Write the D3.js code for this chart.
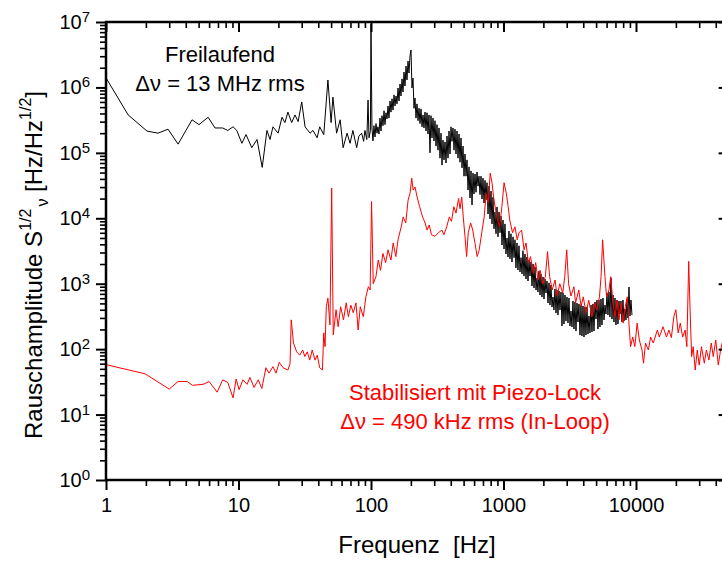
<!DOCTYPE html>
<html>
<head>
<meta charset="utf-8">
<script src="https://cdn.jsdelivr.net/npm/d3@7"></script>
<style>
  body { margin: 0; background: #fff; }
  svg { display: block; font-family: "Liberation Sans", Arial, Helvetica, sans-serif; }
</style>
</head>
<body>
<svg id="chart" width="722" height="561"></svg>
<script>
// Frequency noise spectrum, free running laser (Hz, Hz/sqrt(Hz))
const freeFreq = [
  1.0, 1.47, 2.04, 2.47, 2.94, 3.5, 4.46, 5.03, 5.9, 6.65, 7.6, 8.3, 9.1, 9.7,
  10.6, 11.4, 12.6, 13.8, 15.1, 16.4, 17.3, 18.2, 19.9, 21.3, 22.4, 23.6, 25.2, 26.7,
  28.2, 30.0, 31.8, 34.7, 36.5, 39.2, 41, 44, 47.3, 50, 51.6, 55, 58.5, 61.6, 66, 69.5,
  73, 78, 81, 85, 88, 90, 93, 95, 96.6, 99, 100,
  101.7, 103.5, 105.3, 107.2, 109.1, 111.0, 112.9, 114.9, 116.9, 119.0, 121.1, 123.2, 125.4, 127.5,
  129.8, 132.1, 134.4, 136.7, 139.2, 141.6, 144.1, 146.6, 149.2, 151.8, 154.5, 157.1, 159.9, 162.7,
  165.6, 168.4, 171.4, 174.4, 177.5, 180.6, 183.8, 186.9, 190.3, 193.6, 197.0, 200.4, 203.9, 207.5,
  211.1, 214.8, 218.6, 222.5, 226.4, 230.3, 234.4, 238.5, 242.7, 246.9, 251.2, 255.6, 260.1, 264.7,
  269.3, 274.0, 278.8, 283.7, 288.7, 293.8, 298.9, 304.1, 309.5, 314.9, 320.4, 326.1, 331.8, 337.6,
  343.5, 349.5, 355.6, 361.9, 368.2, 374.7, 381.3, 388.0, 394.8, 401.7, 408.7, 415.9, 423.2, 430.6,
  438.2, 445.9, 453.7, 461.6, 469.7, 477.9, 486.3, 494.8, 503.5, 512.3, 521.3, 530.5, 539.8, 549.2,
  558.9, 568.7, 578.7, 588.8, 599.1, 609.6, 620.3, 631.1, 642.2, 653.5, 664.9, 676.6, 688.5, 700.5,
  712.8, 725.3, 738.0, 751.0, 764.2, 777.5, 791.2, 805.0, 819.2, 833.5, 848.1, 862.9, 878.1, 893.4,
  909.1, 924.9, 941.3, 957.6, 974.4, 991.3, 1009, 1026, 1044, 1063, 1082, 1100, 1119, 1139,
  1159, 1180, 1201, 1221, 1242, 1264, 1286, 1309, 1332, 1356, 1380, 1403, 1428, 1453,
  1479, 1505, 1531, 1558, 1585, 1613, 1641, 1670, 1699, 1729, 1760, 1790, 1821, 1853,
  1886, 1919, 1953, 1987, 2022, 2057, 2093, 2130, 2167, 2205, 2244, 2283, 2323, 2363,
  2404, 2447, 2490, 2533, 2577, 2623, 2669, 2716, 2763, 2812, 2861, 2911, 2962, 3014,
  3067, 3121, 3176, 3231, 3288, 3345, 3404, 3464, 3525, 3586, 3649, 3713, 3778, 3844,
  3911, 3981, 4051, 4121, 4193, 4267, 4342, 4418, 4495, 4574, 4654, 4736, 4819, 4903,
  4989, 5077, 5166, 5256, 5348, 5442, 5537, 5635, 5734, 5834, 5936, 6040, 6146, 6254,
  6364, 6475, 6589, 6704, 6822, 6941, 7063, 7187, 7313, 7441, 7571, 7704, 7839, 7977,
  8117, 8259, 8404, 8551, 8701, 8853, 9008, 9166, 9327
];
const freeAmp = [
  1.4e6, 3.8e5, 2.15e5, 2.0e5, 2.3e5, 1.36e5, 3.2e5, 2.7e5, 3.5e5, 2.4e5, 2.4e5, 2.2e5, 2.5e5, 2.2e5,
  1.4e5, 1.9e5, 1.2e5, 1.6e5, 6.0e4, 2.2e5, 1.6e5, 2.5e5, 2.0e5, 3.5e5, 2.9e5, 4.2e5, 2.9e5, 3.8e5,
  3.0e5, 6.0e5, 2.5e5, 2.0e5, 2.2e5, 1.7e5, 2.5e5, 1.9e5, 1.3e6, 2.9e5, 7.1e5, 2.0e5, 3.2e5, 1.2e5, 2.0e5, 1.4e5,
  2.2e5, 1.2e5, 1.8e5, 2.0e5, 1.5e5, 2.2e5, 1.6e5, 6.4e5, 1.7e5, 2.2e5, 9.3e6,
  2.4e5, 1.52e5, 2.6e5, 1.75e5, 2.8e5, 2.0e5, 2.5e5, 1.94e5, 3.4e5, 2.16e5, 3.7e5, 2.6e5, 4.4e5, 2.7e5,
  4.1e5, 3.3e5, 5.2e5, 3.4e5, 6.2e5, 4.2e5, 6.7e5, 4.5e5, 7.7e5, 5.2e5, 7.4e5, 5.6e5, 9.8e5, 6.2e5,
  1.13e6, 7.4e5, 1.35e6, 8.5e5, 1.72e6, 1.05e6, 2.12e6, 1.30e6, 2.53e6, 1.66e6, 3.02e6, 3.73e6, 9.8e5, 1.39e6,
  4.8e5, 6.9e5, 3.4e5, 5.6e5, 3.1e5, 4.8e5, 2.8e5, 4.7e5, 2.5e5, 3.8e5, 2.4e5, 4.2e5, 2.16e5, 4.1e5,
  1.94e5, 3.8e5, 1.0e5, 3.7e5, 1.69e5, 3.4e5, 1.52e5, 3.1e5, 1.27e5, 2.7e5, 1.10e5, 2.4e5, 8.3e4, 2.0e5,
  6.5e4, 1.57e5, 7.8e4, 1.47e5, 7.0e4, 1.81e5, 8.3e4, 2.16e5, 9.6e4, 2.5e5, 1.5e5, 2.4e5, 1.10e5, 2.3e5,
  9.6e4, 2.16e5, 8.3e4, 1.94e5, 7.2e4, 1.69e5, 5.9e4, 1.27e5, 4.4e4, 9.6e4, 4.4e4, 7.8e4, 2.7e4, 6.1e4,
  2.04e4, 5.3e4, 1.6e4, 4.9e4, 2.35e4, 4.75e4, 2.5e4, 5.1e4, 3.1e4, 4.4e4, 2.3e4, 4.4e4, 1.97e4, 4.1e4,
  1.71e4, 3.8e4, 1.9e4, 3.5e4, 1.16e4, 3.1e4, 9.8e3, 2.6e4, 8.2e3, 2.1e4, 6.9e3, 1.25e4, 5.8e3, 1.49e4,
  5.2e3, 1.25e4, 6.0e3, 1.08e4, 3.9e3, 9.4e3, 3.4e3, 8.2e3, 2.85e3, 5.0e3, 2.56e3, 6.4e3, 2.4e3, 5.8e3,
  2.15e3, 5.2e3, 2.5e3, 4.7e3, 1.74e3, 4.2e3, 1.62e3, 3.8e3, 1.51e3, 2.5e3, 1.41e3, 3.2e3, 1.31e3, 2.85e3,
  1.18e3, 2.56e3, 1.10e3, 2.3e3, 1.31e3, 2.15e3, 922, 2.0e3, 860, 1.8e3, 800, 1.22e3, 746, 1.56e3,
  672, 1.41e3, 627, 1.27e3, 583, 1.18e3, 721, 1.10e3, 507, 1.03e3, 472, 955, 440, 627,
  396, 830, 356, 800, 332, 773, 396, 746, 226, 721, 242, 672, 269, 627,
  251, 604, 226, 383, 218, 544, 203, 525, 189, 507, 260, 490, 164, 472,
  159, 456, 153, 440, 164, 440, 170, 321, 177, 472, 183, 490, 189, 525,
  288, 564, 203, 564, 218, 583, 234, 604, 279, 472, 344, 721, 332, 746,
  310, 1.22e3, 288, 672, 260, 604, 234, 564, 242, 544, 344, 544, 260, 564,
  269, 410, 279, 583, 299, 890, 321, 564, 332
];

// Frequency noise spectrum with piezo lock, in-loop (Hz, Hz/sqrt(Hz))
const lockFreq = [
  1.0, 1.97, 3.0, 3.5, 4.1, 4.5, 5.4, 6.0, 6.9, 7.6, 8.3, 9.1, 9.6, 10.1, 10.8, 11.6, 12.2,
  13.1, 14.1, 15.0, 16.1, 17.0, 18.2, 19.2, 20.3, 21.7, 23.6, 24.5, 25.0, 26.0, 27.5, 29,
  30.5, 31.7, 33, 34.5, 36, 37.8, 39.3, 41, 43, 44, 45, 46, 47.3, 49, 50.5, 51.9, 54.5,
  56.5, 59, 62, 65, 67.5, 70.5, 73.5, 77, 80, 83, 87.5, 91.5, 95.5, 98.5, 101, 104, 109,
  113.5, 118, 123, 129, 134.5, 141.5, 147, 154, 160, 169, 175, 183, 190.5, 197, 203, 208,
  215, 223, 233, 245, 256, 265, 275, 286, 304, 322, 343, 355, 373, 390, 405, 422, 438, 458,
  470, 484, 497, 512, 527, 542, 565, 586, 610, 633, 656, 685, 715, 740, 766, 794, 819, 842,
  872, 902, 934, 972, 1010, 1050, 1085, 1115, 1170, 1220, 1270, 1310, 1370, 1430, 1480,
  1540, 1600, 1680, 1750, 1820, 1890, 1980, 2070, 2150, 2230, 2330, 2450, 2540, 2660, 2800,
  2900, 3000, 3100, 3230, 3400, 3500, 3700, 3850, 4000, 4200, 4400, 4650, 4850, 5050, 5300,
  5450, 5600, 5830, 6000, 6250, 6450, 6700, 6950, 7200, 7450, 7700, 8000, 8300, 8600, 8850,
  9100, 9450, 9800, 10200, 10600, 11100, 11400, 11800, 12400, 12900, 13500, 14500, 15000,
  16000, 17000, 17700, 18500, 19300, 20000, 20800, 21600, 22500, 23500, 24200, 25000, 25600,
  26300, 27000, 28000, 29000, 30000, 31200, 32800, 34000, 35500, 37000, 38300, 40000, 41800,
  43500, 45300, 47000, 50000
];
const lockAmp = [
  58, 42, 24.5, 32, 32, 28, 29, 32, 22, 34, 31, 18, 35, 24, 34, 29, 37,
  26, 34, 25, 52, 43, 54, 43, 63, 52, 48, 60, 280, 124, 91, 81,
  97, 77, 91, 68, 97, 68, 81, 52, 48, 177, 109, 445, 600, 234, 2.9e4, 165, 400,
  220, 445, 280, 510, 313, 470, 360, 510, 196, 445, 313, 632, 900, 800, 1.8e4, 1.0e3, 1.28e3,
  2.3e3, 1.6e3, 2.9e3, 2.1e3, 3.3e3, 2.3e3, 4.2e3, 2.6e3, 4.7e3, 7.4e3, 1.05e4, 8.5e3, 1.9e4, 2.4e4, 4.1e4, 2.7e4,
  3.0e4, 2.1e4, 1.5e4, 1.05e4, 8.5e3, 6.6e3, 7.9e3, 5.6e3, 5.3e3, 6.0e3, 6.6e3, 5.6e3, 7.4e3, 1.05e4, 9.0e3, 1.5e4, 1.2e4, 2.0e4,
  1.4e4, 2.1e4, 1.05e4, 5.3e3, 2.6e3, 6.0e3, 8.5e3, 6.6e3, 4.1e3, 2.6e3, 3.3e3, 6.0e3, 1.05e4, 2.4e4, 1.7e4, 4.9e4, 3.5e4, 2.1e4,
  1.34e4, 9.4e3, 7.4e3, 1.5e4, 3.5e4, 2.4e4, 1.5e4, 9.4e3, 6.0e3, 7.4e3, 4.7e3, 6.0e3, 6.6e3, 3.3e3, 4.2e3,
  2.1e3, 2.6e3, 1.45e3, 2.1e3, 1.14e3, 1.6e3, 1.0e3, 1.28e3, 3.1e3, 1.28e3, 800, 1.14e3, 650, 1.0e3, 720,
  1.28e3, 3.3e3, 1.0e3, 650, 900, 510, 800, 450, 630, 360, 560, 313, 510, 400, 630,
  1.28e3, 4.7e3, 1.28e3, 630, 800, 1.28e3, 510, 313, 560, 280, 510, 250, 445, 630, 250,
  109, 153, 109, 250, 138, 97, 61, 124, 97, 153, 124, 196, 153,
  220, 153, 196, 150, 313, 400, 177, 250, 153, 196, 109, 2.2e3, 400,
  77, 109, 48, 97, 57, 109, 61, 97, 68, 124, 77, 138, 57,
  97, 138, 80, 110
];

// Axis ticks and labels
const xTickValues = [1, 10, 100, 1000, 10000];
const xTickLabels = ["1", "10", "100", "1000", "10000"];
const yExponents = [0, 1, 2, 3, 4, 5, 6, 7];

const svg = d3.select("#chart");
const x = d3.scaleLog().domain([1, 5e4]).range([106, 728.6]);
const y = d3.scaleLog().domain([1, 1e7]).range([480, 22]);

const minorTicks = (lo, hi, max) => {
  const out = [];
  for (let e = lo; e < hi; e++) for (let k = 2; k <= 9; k++) {
    const v = k * Math.pow(10, e);
    if (v <= max) out.push(v);
  }
  return out;
};
const xMinor = minorTicks(0, 5, 5e4);
const yMinor = minorTicks(0, 7, 1e7);
const yMajor = yExponents.map(e => Math.pow(10, e));

// Data traces, clipped to the plot frame
svg.append("clipPath").attr("id", "plot-clip")
  .append("rect").attr("x", 106).attr("y", 22).attr("width", 622.6).attr("height", 458);

const line = d3.line().x(d => x(d[0])).y(d => y(d[1]));
const traces = svg.append("g").attr("clip-path", "url(#plot-clip)");
traces.append("path")
  .datum(d3.zip(freeFreq, freeAmp))
  .attr("d", line).attr("fill", "none").attr("stroke", "#000").attr("stroke-width", 1)
  .attr("stroke-linejoin", "round");
traces.append("path")
  .datum(d3.zip(lockFreq, lockAmp))
  .attr("d", line).attr("fill", "none").attr("stroke", "#ff0000").attr("stroke-width", 1)
  .attr("stroke-linejoin", "round");

// Axes: outward ticks bottom/left, mirrored inward ticks top/right
function styleAxis(g, width) {
  g.select(".domain").remove();
  g.selectAll(".tick line").attr("stroke", "#000").attr("stroke-width", width);
}
const axisGroup = (tr) => svg.append("g").attr("transform", tr);

axisGroup("translate(0,480)").call(d3.axisBottom(x).tickValues(xMinor).tickSize(6).tickFormat("")).call(g => styleAxis(g, 1.6));
const gxMajor = axisGroup("translate(0,480)")
  .call(d3.axisBottom(x).tickValues(xTickValues).tickSize(10).tickPadding(8)
    .tickFormat((d, i) => xTickLabels[i]))
  .call(g => styleAxis(g, 2));
gxMajor.selectAll(".tick text").attr("font-size", 20).attr("fill", "#000")
  .attr("font-family", "Liberation Sans, Arial, sans-serif");

axisGroup("translate(0,22)").call(d3.axisTop(x).tickValues(xMinor).tickSize(-6).tickFormat("")).call(g => styleAxis(g, 1.6));
axisGroup("translate(0,22)").call(d3.axisTop(x).tickValues(xTickValues).tickSize(-10).tickFormat("")).call(g => styleAxis(g, 2));

axisGroup("translate(106,0)").call(d3.axisLeft(y).tickValues(yMinor).tickSize(6).tickFormat("")).call(g => styleAxis(g, 1.6));
axisGroup("translate(106,0)").call(d3.axisLeft(y).tickValues(yMajor).tickSize(10).tickFormat("")).call(g => styleAxis(g, 2));

axisGroup("translate(728.6,0)").call(d3.axisRight(y).tickValues(yMinor).tickSize(-6).tickFormat("")).call(g => styleAxis(g, 1.6));
axisGroup("translate(728.6,0)").call(d3.axisRight(y).tickValues(yMajor).tickSize(-10).tickFormat("")).call(g => styleAxis(g, 2));

// Power-of-ten labels on the y axis
const yLab = svg.append("g").attr("font-size", 20).attr("fill", "#000");
yExponents.forEach(e => {
  const t = yLab.append("text").attr("x", 90).attr("y", y(Math.pow(10, e)) + 7)
    .attr("text-anchor", "end");
  t.append("tspan").text("10");
  t.append("tspan").attr("font-size", 15).attr("dy", -7).text(String(e));
});

// Plot frame
svg.append("rect").attr("x", 106).attr("y", 22).attr("width", 622.6).attr("height", 458)
  .attr("fill", "none").attr("stroke", "#000").attr("stroke-width", 2.5);

// Axis titles
svg.append("text").attr("x", 417).attr("y", 553).attr("text-anchor", "middle")
  .attr("font-size", 24).attr("fill", "#000").text("Frequenz\u00a0 [Hz]");

const yTitle = svg.append("text")
  .attr("transform", "translate(42,265) rotate(-90)")
  .attr("text-anchor", "middle")
  .attr("font-size", 24).attr("fill", "#000");
yTitle.append("tspan").text("Rauschamplitude S");
yTitle.append("tspan").attr("font-size", 16).attr("dy", -11).text("1/2");
yTitle.append("tspan").attr("font-size", 16).attr("dy", 17).attr("dx", 2).text("\u03bd");
yTitle.append("tspan").attr("dy", -6).text("\u00a0[Hz/Hz");
yTitle.append("tspan").attr("font-size", 16).attr("dy", -11).text("1/2");
yTitle.append("tspan").attr("dy", 11).text("]");

// Annotations
const freeNote = svg.append("g").attr("font-size", 22).attr("fill", "#000").attr("text-anchor", "middle");
freeNote.append("text").attr("x", 220).attr("y", 62).text("Freilaufend");
freeNote.append("text").attr("x", 220).attr("y", 91).text("\u0394\u03bd = 13 MHz rms");

const lockNote = svg.append("g").attr("font-size", 22).attr("fill", "#ff0000").attr("text-anchor", "middle");
lockNote.append("text").attr("x", 475).attr("y", 400).text("Stabilisiert mit Piezo-Lock");
lockNote.append("text").attr("x", 475).attr("y", 429).text("\u0394\u03bd = 490 kHz rms (In-Loop)");
</script>
</body>
</html>
